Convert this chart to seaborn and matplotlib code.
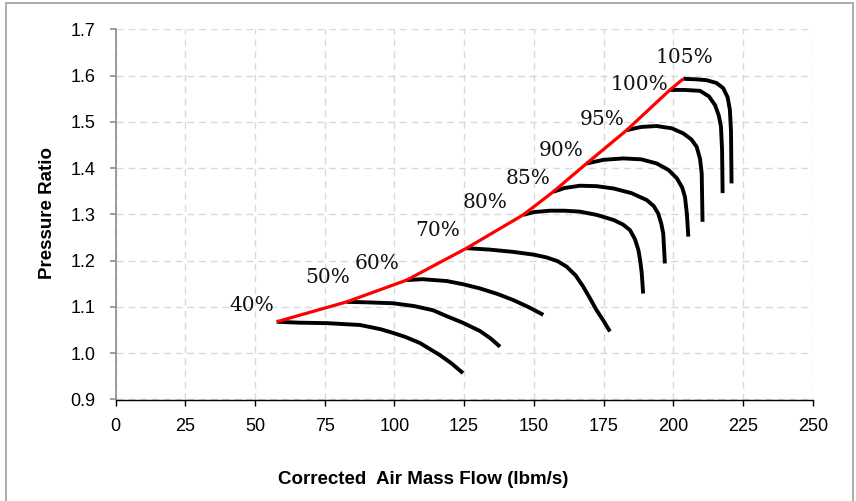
import matplotlib
matplotlib.use("Agg")
import matplotlib.pyplot as plt
import pandas as pd
import seaborn as sns
from matplotlib.patches import Rectangle

# ---------------- data ----------------
speeds = ["40%", "50%", "60%", "70%", "80%", "85%", "90%", "95%", "100%", "105%"]

flow_40 = [57.8, 66.0, 75.7, 87.7, 95.0, 99.5, 104.0, 109.2, 116.3, 120.5, 124.6]
pr_40 = [1.068, 1.066, 1.065, 1.061, 1.052, 1.044, 1.035, 1.022, 0.996, 0.978, 0.957]

flow_50 = [82.9, 90.0, 99.5, 107.0, 113.8, 118.8, 124.5, 130.7, 134.5, 137.9]
pr_50 = [1.111, 1.110, 1.108, 1.102, 1.093, 1.080, 1.066, 1.048, 1.032, 1.014]

flow_60 = [104.4, 110.0, 118.8, 124.7, 130.7, 137.0, 142.6, 148.0, 153.4]
pr_60 = [1.158, 1.160, 1.156, 1.149, 1.140, 1.128, 1.115, 1.100, 1.083]

flow_70 = [125.9, 134.0, 142.6, 150.0, 154.6, 158.5, 161.8, 165.0, 167.7, 170.2, 172.5, 175.0, 177.3]
pr_70 = [1.227, 1.224, 1.219, 1.213, 1.207, 1.199, 1.187, 1.168, 1.144, 1.118, 1.093, 1.070, 1.047]

flow_80 = [146.2, 150.0, 155.8, 161.0, 166.5, 172.5, 178.6, 182.0, 184.5, 186.3, 187.5, 188.2, 188.7, 189.2]
pr_80 = [1.299, 1.305, 1.308, 1.308, 1.306, 1.299, 1.288, 1.278, 1.266, 1.246, 1.223, 1.198, 1.173, 1.129]

flow_85 = [157.0, 161.0, 166.5, 172.5, 178.6, 185.0, 190.5, 193.0, 194.6, 195.7, 196.4, 197.0]
pr_85 = [1.349, 1.357, 1.362, 1.361, 1.356, 1.346, 1.331, 1.318, 1.302, 1.280, 1.259, 1.194]

flow_90 = [168.9, 175.0, 182.1, 188.5, 194.1, 198.3, 201.3, 203.2, 204.2, 204.9, 205.4]
pr_90 = [1.410, 1.418, 1.421, 1.419, 1.410, 1.396, 1.378, 1.358, 1.338, 1.300, 1.252]

flow_95 = [183.3, 188.5, 194.0, 199.5, 203.6, 206.5, 208.4, 209.6, 210.2, 210.5]
pr_95 = [1.482, 1.489, 1.491, 1.486, 1.475, 1.462, 1.446, 1.420, 1.389, 1.284]

flow_100 = [198.8, 204.0, 209.6, 212.8, 215.0, 216.3, 217.1, 217.5, 217.7]
pr_100 = [1.569, 1.569, 1.567, 1.555, 1.536, 1.514, 1.490, 1.440, 1.346]

flow_105 = [203.6, 208.0, 212.0, 215.5, 217.9, 219.5, 220.3, 220.7, 220.9]
pr_105 = [1.593, 1.592, 1.590, 1.584, 1.573, 1.553, 1.526, 1.480, 1.367]

surge_flow = [57.8, 82.9, 104.4, 125.9, 146.2, 157.0, 168.9, 183.3, 198.8, 203.6]
surge_pr = [1.068, 1.111, 1.158, 1.227, 1.299, 1.349, 1.410, 1.482, 1.569, 1.593]

label_x = [48.9, 76.2, 93.8, 115.6, 132.5, 147.9, 159.7, 174.4, 187.7, 203.9]
label_y = [1.104, 1.163, 1.193, 1.266, 1.325, 1.377, 1.439, 1.504, 1.580, 1.638]

x_ticks = [0, 25, 50, 75, 100, 125, 150, 175, 200, 225, 250]
y_ticks = [0.9, 1.0, 1.1, 1.2, 1.3, 1.4, 1.5, 1.6, 1.7]

x_title = "Corrected  Air Mass Flow (lbm/s)"
y_title = "Pressure Ratio"

flows = [flow_40, flow_50, flow_60, flow_70, flow_80, flow_85, flow_90, flow_95, flow_100, flow_105]
prs = [pr_40, pr_50, pr_60, pr_70, pr_80, pr_85, pr_90, pr_95, pr_100, pr_105]

rows = []
for sp, fl, pr in zip(speeds, flows, prs):
    for i, (f, p) in enumerate(zip(fl, pr)):
        rows.append({"speed": sp, "order": i, "flow": f, "pr": p})
df = pd.DataFrame(rows)
surge_df = pd.DataFrame({"flow": surge_flow, "pr": surge_pr})

# ---------------- style ----------------
sns.set_theme(style="white")
plt.rcParams["font.family"] = ["Liberation Sans", "DejaVu Sans"]

W, H = 856, 501
fig = plt.figure(figsize=(W / 100, H / 100), dpi=100)
ax = fig.add_axes([115.5 / W, 1 - 399.5 / H, (812.7 - 115.5) / W, (399.5 - 29.3) / H])

# speed lines
for sp in speeds:
    sub = df[df["speed"] == sp]
    sns.lineplot(data=sub, x="flow", y="pr", sort=False, estimator=None,
                 color="black", lw=2.8, ax=ax, solid_capstyle="butt",
                 solid_joinstyle="round", zorder=3)

# surge line
sns.lineplot(data=surge_df, x="flow", y="pr", sort=False, estimator=None,
             color="#ff0000", lw=2.3, ax=ax, zorder=4, solid_capstyle="butt",
             solid_joinstyle="round")

# speed labels
for sp, lx, ly in zip(speeds, label_x, label_y):
    ax.text(lx, ly, sp, ha="center", va="center", fontsize=14.5,
            family=["DejaVu Serif"], color="#111111", zorder=5)

ax.set_xlim(0, 250)
ax.set_ylim(0.9, 1.7)
ax.set_xticks(x_ticks)
ax.set_yticks(y_ticks)
ax.set_xticklabels([str(v) for v in x_ticks])
ax.set_yticklabels([f"{v:.1f}" for v in y_ticks])

ax.grid(True, color="#d9d9d9", linestyle=(0, (5, 3.5)), linewidth=1.0)
ax.set_axisbelow(True)

for s in ["top", "right"]:
    ax.spines[s].set_visible(False)
ax.spines["left"].set_color("#8c8c8c")
ax.spines["left"].set_linewidth(1.2)
ax.spines["bottom"].set_color("#000000")
ax.spines["bottom"].set_linewidth(1.0)

ax.tick_params(axis="y", which="major", direction="out", length=4.5, width=1.2,
               color="#8c8c8c", labelsize=13, labelcolor="#000000", pad=10, left=True)
ax.tick_params(axis="x", which="major", direction="out", length=4, width=1.0,
               color="#000000", labelsize=13, labelcolor="#000000", pad=9, bottom=True)

ax.set_xlabel(x_title, fontsize=13.5, fontweight="bold", color="#000000")
ax.set_ylabel(y_title, fontsize=13.5, fontweight="bold", color="#000000")
ax.xaxis.label.set_va("center")
ax.yaxis.label.set_va("center")
ax.xaxis.set_label_coords((423 - 115.5) / (812.7 - 115.5), (399.5 - 480) / (399.5 - 29.3))
ax.yaxis.set_label_coords((48 - 115.5) / (812.7 - 115.5), (399.5 - 213) / (399.5 - 29.3))

# outer chart-area border
fig.patches.append(Rectangle((5.7 / W, -0.01), (853 - 5.7) / W, 1 - 3 / H + 0.01,
                             transform=fig.transFigure, fill=False,
                             edgecolor="#a6a6a6", linewidth=1.3))

fig.savefig("out.png", dpi=100)
